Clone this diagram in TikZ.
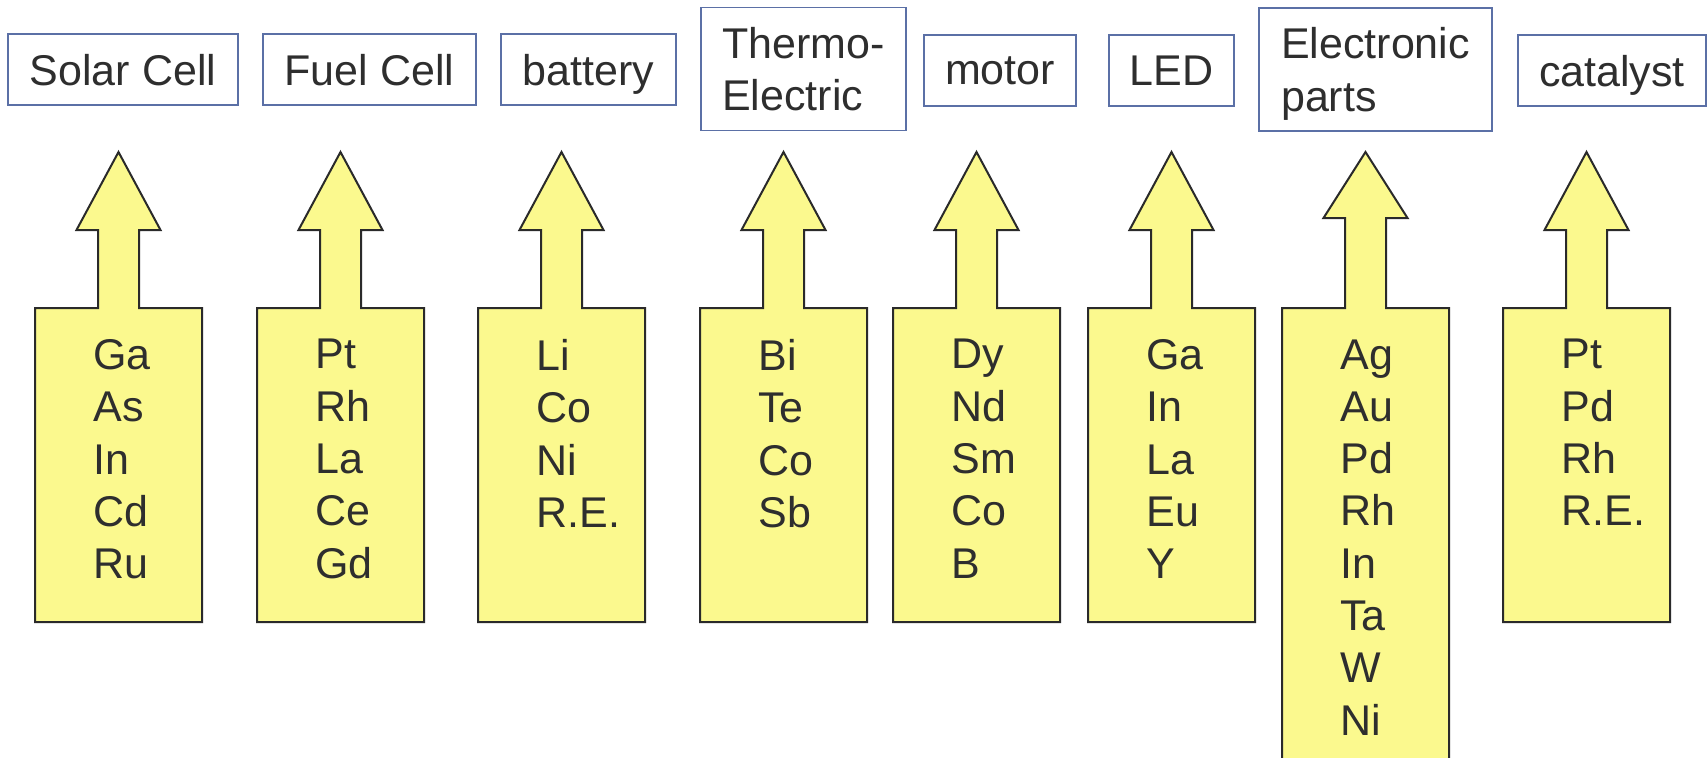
\documentclass[tikz,border=0pt]{standalone}
\usepackage{fontspec}
\setmainfont{Liberation Sans}
\usepackage{xcolor}
\definecolor{mtext}{HTML}{2E2E2E}
\definecolor{medge}{HTML}{5B70A6}
\definecolor{mline}{HTML}{2A2A2A}
\definecolor{myellow}{HTML}{FBF98E}
\usepackage{tikz}
\usetikzlibrary{positioning}

\begin{document}
\begin{tikzpicture}[x=0.5pt,y=-0.5pt,font=\fontsize{21.5}{26.15}\selectfont,text=mtext,
  use/.style={rectangle,draw=medge,line width=0.8pt,align=left,inner sep=0pt,minimum height=35.5pt,text depth=0pt},
  tall/.style={minimum height=61.5pt},
  elem/.style={anchor=north west,align=left,inner sep=0pt},
  blk/.style={draw=mline,fill=myellow,line width=1pt,line join=miter}]
\useasboundingbox (0,0) rectangle (1708,757);
\clip (0,0) rectangle (1708,757);
\fill[white] (0,0) rectangle (1708,757);
% application boxes
\node[use,minimum width=115pt] (solar) at (123,69.5) {Solar Cell};
\node[use,minimum width=106.5pt] (fuel) at (369.5,69.5) {Fuel Cell};
\node[use,minimum width=87.5pt] (battery) at (588.5,69.5) {battery};
\node[use,tall,minimum width=102.5pt] (thermo) at (803.5,69) {Thermo-\\Electric};
\node[use,minimum width=76pt] (motor) at (1000,70.5) {motor};
\node[use,minimum width=62.5pt] (led) at (1171.5,70.5) {LED};
\node[use,tall,minimum width=116.5pt] (elec) at (1375.5,69.5) {Electronic\\parts};
\node[use,minimum width=94pt] (catal) at (1612,70.5) {catalyst};
% block arrows
\foreach \l/\h/\b in {35/230/622,257/230/622,478/230/622,700/230/622,893/230/622,1088/230/622,1282/218/790,1503/230/622}
  \draw[blk] (\l,\b) -- (\l,308) -- ({\l+63},308) -- ({\l+63},\h) -- ({\l+41.5},\h) -- ({\l+83.5},152)
    -- ({\l+125.5},\h) -- ({\l+104},\h) -- ({\l+104},308) -- ({\l+167},308) -- ({\l+167},\b) -- cycle;
% element lists
\node[elem] (esolar) at (93,339) {Ga\\As\\In\\Cd\\Ru};
\node[elem] (efuel) at (315,339) {Pt\\Rh\\La\\Ce\\Gd};
\node[elem] (ebattery) at (536,339) {Li\\Co\\Ni\\R.E.};
\node[elem] (ethermo) at (758,339) {Bi\\Te\\Co\\Sb};
\node[elem] (emotor) at (951,339) {Dy\\Nd\\Sm\\Co\\B};
\node[elem] (eled) at (1146,339) {Ga\\In\\La\\Eu\\Y};
\node[elem] (eelec) at (1340,339) {Ag\\Au\\Pd\\Rh\\In\\Ta\\W\\Ni};
\node[elem] (ecatal) at (1561,339) {Pt\\Pd\\Rh\\R.E.};
\end{tikzpicture}
\end{document}
